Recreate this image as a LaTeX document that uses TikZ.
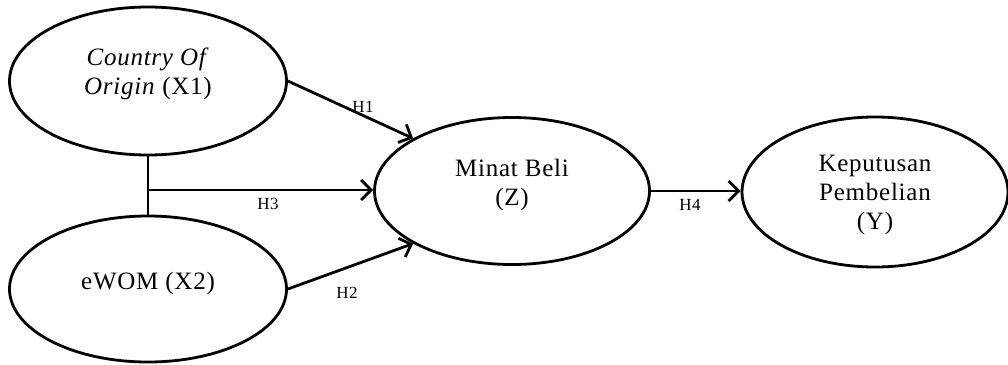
\documentclass[tikz,border=0pt]{standalone}
\usepackage{fontspec}
\setmainfont{Liberation Serif}[LetterSpace=3]
\usetikzlibrary{arrows.meta,shapes.geometric}
\tikzset{
  var/.style={draw, ellipse, line width=2.8pt, inner sep=0pt},
  txt/.style={font=\fontsize{25}{29}\selectfont, align=center, inner sep=0pt},
  hyp/.style={font=\fontsize{17}{18}\selectfont, inner sep=0pt},
  conn/.style={line width=2.8pt},
  arr/.style={line width=2.8pt, -{Straight Barb[length=10pt,width=20pt,line width=2.8pt]}}
}
\begin{document}
\begin{tikzpicture}[x=1pt,y=-1pt]
\useasboundingbox (0,0) rectangle (1008,364);
\node[var, minimum width=277pt, minimum height=148pt] (x1) at (148,81) {};
\node[var, minimum width=277pt, minimum height=146pt] (x2) at (148,289) {};
\node[var, minimum width=275pt, minimum height=147pt] (z) at (512,191) {};
\node[var, minimum width=266pt, minimum height=150pt] (y) at (875,192) {};
\node[txt] (x1t) at (148,74) {\textit{Country Of}\\\textit{Origin} (X1)};
\node[txt] (x2t) at (148,283) {eWOM (X2)};
\node[txt] (zt) at (512,185) {Minat Beli\\(Z)};
\node[txt] (yt) at (875,195) {Keputusan\\Pembelian\\(Y)};
\coordinate (j) at (148,190);
\draw[conn] (x1.south) -- (x2.north);
\draw[arr] (j) -- (j -| z.west);
\draw[arr] (x1.east) -- (z.152);
\draw[arr] (x2.east) -- (z.208);
\draw[arr] (z.east) -- (z.east -| y.west);
\node[hyp] (h1) at (363,107) {H1};
\node[hyp] (h3) at (268,204) {H3};
\node[hyp] (h2) at (347,293) {H2};
\node[hyp] (h4) at (690,205) {H4};
\end{tikzpicture}
\end{document}
